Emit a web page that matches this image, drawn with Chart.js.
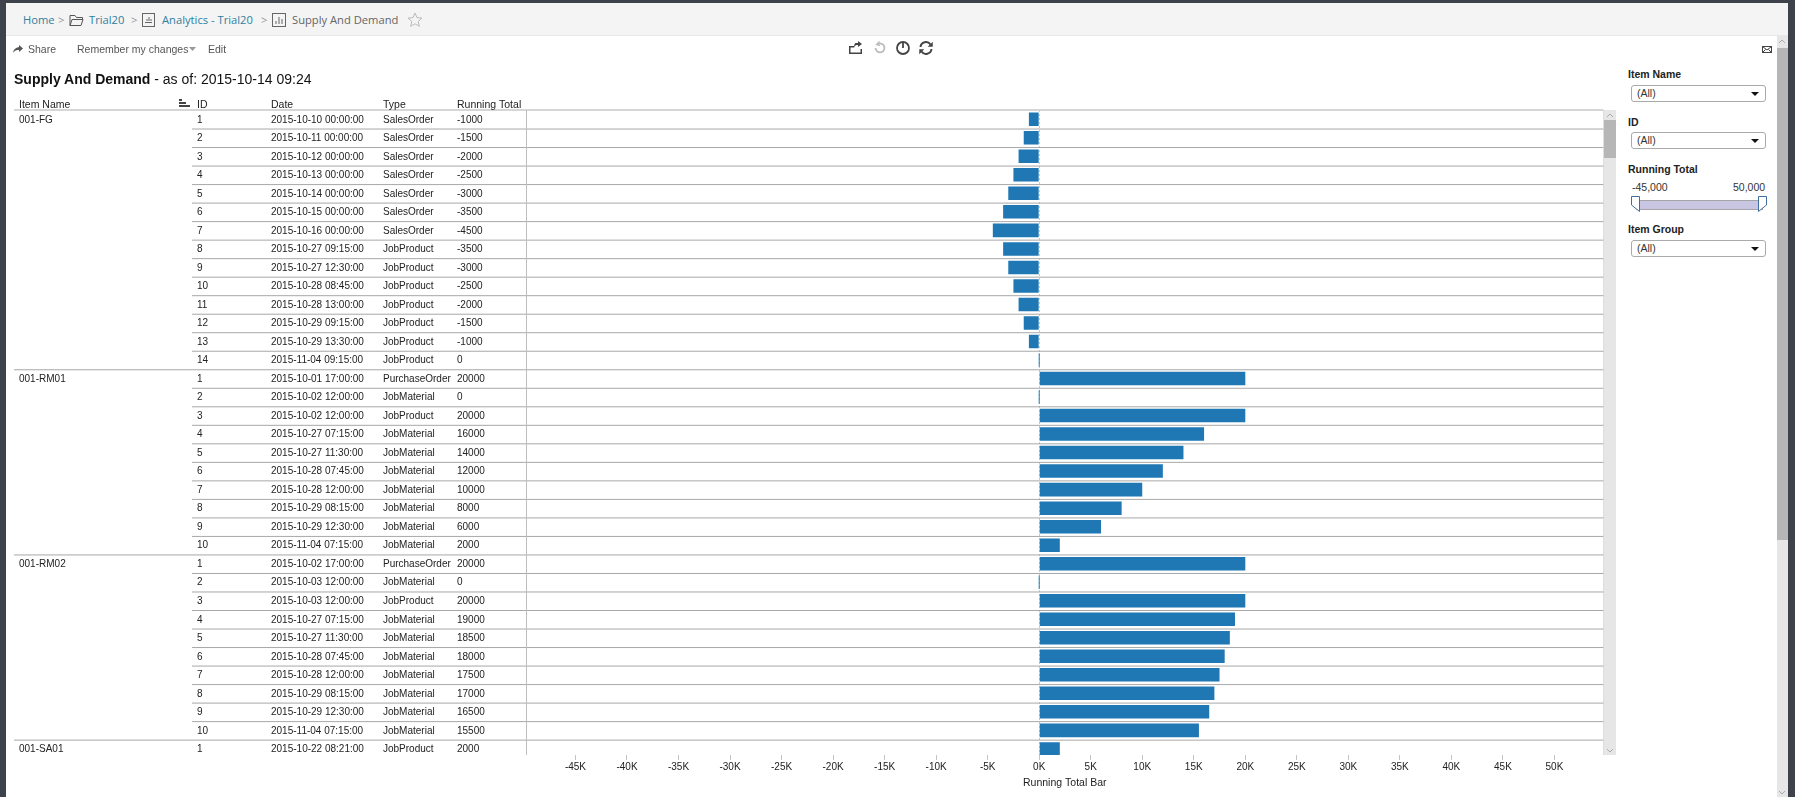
<!DOCTYPE html>
<html>
<head>
<meta charset="utf-8">
<title>Supply And Demand</title>
<script src="https://cdn.jsdelivr.net/npm/chart.js@4/dist/chart.umd.min.js"></script>
<style>
    html, body { margin: 0; padding: 0; width: 1795px; height: 797px; overflow: hidden; background: #3e434b; }
    body { font-family: "Liberation Sans", Arial, sans-serif; color: #333; }
    #page { position: absolute; left: 6px; top: 3px; width: 1782px; height: 794px; background: #fff; }
    #chart { position: absolute; left: 0; top: 0; }
    .abs { position: absolute; white-space: nowrap; }
    .crumbs { font-family: "Open Sans", sans-serif; font-size: 11.2px; line-height: 16px; top: 12px; color: #2f7f9f; }
    .tool { font-size: 10.5px; line-height: 14px; top: 42px; color: #555; }
    .label { font-size: 10.5px; font-weight: bold; line-height: 14px; color: #222; left: 1628px; }
    .combo { left: 1631px; width: 135px; height: 17px; box-sizing: border-box; border: 1px solid #aaa; border-radius: 3px;
             background: #fff; font-size: 10.5px; line-height: 15px; padding-left: 5px; color: #333; }
    .combo::after { content: ""; position: absolute; right: 6px; top: 6px; border: 4px solid transparent; border-top: 4px solid #111; border-bottom: 0; }
    svg { position: absolute; overflow: visible; }
</style>
</head>
<body>
<div id="page"></div>
<canvas id="chart" width="1616" height="797"></canvas>

<!-- breadcrumb bar -->
<div class="abs" style="left:6px;top:3px;width:1782px;height:32px;background:#f4f4f4;border-bottom:1px solid #e8e8e8"></div>
<div class="abs crumbs" style="left:23px">Home</div>
<div class="abs crumbs" style="left:58px;color:#999">&gt;</div>
<svg style="left:69px;top:14px" width="15" height="13" fill="none" stroke="#555"><path d="M1 11.5V1.5h5l1.5 2h6v2M1 11.5l2-6h11l-2 6z"/></svg>
<div class="abs crumbs" style="left:89px">Trial20</div>
<div class="abs crumbs" style="left:131px;color:#999">&gt;</div>
<svg style="left:142px;top:13px" width="14" height="14" fill="none" stroke="#666"><rect x="0.5" y="0.5" width="12" height="13"/><path d="M3 9.5h7M5 8V6M7 8V4M9 8V6"/></svg>
<div class="abs crumbs" style="left:162px">Analytics - Trial20</div>
<div class="abs crumbs" style="left:261px;color:#999">&gt;</div>
<svg style="left:272px;top:13px" width="14" height="14" fill="none" stroke="#666"><rect x="0.5" y="0.5" width="13" height="13"/><path d="M4 11V8M7 11V4M10 11V6"/></svg>
<div class="abs crumbs" style="left:292px;color:#666">Supply And Demand</div>
<svg style="left:407px;top:12px" width="16" height="15" fill="none" stroke="#bbb"><path d="M8 1l2 4.6 5 .5-3.8 3.3 1.1 4.9L8 11.8l-4.3 2.5 1.1-4.9L1 6.100l5-.5z"/></svg>

<!-- toolbar -->
<svg style="left:13px;top:45px" width="10" height="8" fill="#555"><path d="M6 0l4 3.500-4 3.500V5C3.500 5 1.500 5.500 0 8c.3-3.500 2.500-5.500 6-6z"/></svg>
<div class="abs tool" style="left:28px">Share</div>
<div class="abs tool" style="left:77px">Remember my changes</div>
<svg style="left:189px;top:47px" width="7" height="4" fill="#999"><path d="M0 0h7L3.500 4z"/></svg>
<div class="abs tool" style="left:208px">Edit</div>
<svg style="left:849px;top:41px" width="14" height="13" fill="#444"><path d="M0 5h5v1.500H1.500v5h10V8H13v5H0zM7 2h2V0l4 3-4 3V4H8C6.500 4 5.500 5 5 7c0-3 .5-5 2-5z"/></svg>
<svg style="left:874px;top:41px" width="12" height="13" fill="none" stroke="#bbb" stroke-width="1.800"><path d="M2.500 4a4.500 4.500 0 1 1-1 3"/><path d="M5.500 0.500L2.800 3.500l3.200 1" stroke-width="1.400"/></svg>
<svg style="left:896px;top:41px" width="14" height="14" fill="none" stroke="#444" stroke-width="1.800"><circle cx="7" cy="7" r="6"/><path d="M7 1v6"/></svg>
<svg style="left:919px;top:41px" width="14" height="14" fill="none" stroke="#444" stroke-width="2"><path d="M1.500 6a5.500 5.500 0 0 1 10-2.500M12.500 8a5.500 5.500 0 0 1-10 2.500"/><path d="M13.500 1v4.500H9M0.500 13V8.500H5" fill="#444" stroke-width="0.500"/></svg>
<svg style="left:1762px;top:46px" width="10" height="7" fill="none" stroke="#444"><rect x="0.500" y="0.500" width="9" height="6"/><path d="M0.500 0.500l4.500 3.500 4.500-3.500M0.500 6.500l3-3M9.500 6.500l-3-3"/></svg>

<div class="abs" style="left:14px;top:70px;font-size:14px;line-height:18px;color:#111"><b>Supply And Demand</b> - as of: 2015-10-14 09:24</div>

<!-- scrollbars -->
<div class="abs" style="left:1604px;top:110px;width:12px;height:645px;background:#e6e6e6"></div>
<div class="abs" style="left:1604px;top:120px;width:12px;height:38px;background:#b6b6b6"></div>
<svg style="left:1606px;top:113px" width="8" height="5" fill="none" stroke="#aaa"><path d="M1 4l3-3 3 3"/></svg>
<svg style="left:1606px;top:748px" width="8" height="5" fill="none" stroke="#aaa"><path d="M1 1l3 3 3-3"/></svg>
<div class="abs" style="left:1777px;top:36px;width:11px;height:761px;background:#e6e6e6"></div>
<div class="abs" style="left:1777px;top:48px;width:11px;height:492px;background:#b6b6b6"></div>
<svg style="left:1778px;top:39px" width="8" height="5" fill="none" stroke="#aaa"><path d="M1 4l3-3 3 3"/></svg>
<svg style="left:1778px;top:790px" width="8" height="5" fill="none" stroke="#aaa"><path d="M1 1l3 3 3-3"/></svg>

<!-- filter panel -->
<div class="abs label" style="top:67px">Item Name</div>
<div class="abs combo" style="top:85px">(All)</div>
<div class="abs label" style="top:115px">ID</div>
<div class="abs combo" style="top:132px">(All)</div>
<div class="abs label" style="top:162px">Running Total</div>
<div class="abs" style="left:1632px;top:180px;font-size:10.5px;line-height:14px;color:#333">-45,000</div>
<div class="abs" style="left:1733px;top:180px;width:30px;text-align:right;font-size:10.5px;line-height:14px;color:#333">50,000</div>
<div class="abs" style="left:1636px;top:200px;width:125px;height:8px;box-sizing:content-box;background:#c8c6e2;border:1px solid #a5a5a5"></div>
<svg style="left:1631px;top:196px" width="9" height="17" fill="#fff" stroke="#3f6f9f"><path d="M0.500 0.500h8v15L0.500 9z"/></svg>
<svg style="left:1758px;top:196px" width="9" height="17" fill="#fff" stroke="#3f6f9f"><path d="M0.500 0.500h8V9L0.500 15.500z"/></svg>
<div class="abs label" style="top:222px">Item Group</div>
<div class="abs combo" style="top:240px">(All)</div>

<script>
    // Rows of the worksheet, top to bottom
    const itemGroups = ['001-FG', '001-RM01', '001-RM02', '001-SA01'];
    const groupSizes = [14, 10, 10, 1];
    const headers = ['Item Name', 'ID', 'Date', 'Type', 'Running Total'];
    const rowIds = [
        1, 2, 3, 4, 5, 6, 7, 8, 9, 10, 11, 12, 13, 14,
        1, 2, 3, 4, 5, 6, 7, 8, 9, 10,
        1, 2, 3, 4, 5, 6, 7, 8, 9, 10,
        1
    ];
    const rowDates = [
        '2015-10-10 00:00:00', '2015-10-11 00:00:00', '2015-10-12 00:00:00', '2015-10-13 00:00:00',
        '2015-10-14 00:00:00', '2015-10-15 00:00:00', '2015-10-16 00:00:00', '2015-10-27 09:15:00',
        '2015-10-27 12:30:00', '2015-10-28 08:45:00', '2015-10-28 13:00:00', '2015-10-29 09:15:00',
        '2015-10-29 13:30:00', '2015-11-04 09:15:00',
        '2015-10-01 17:00:00', '2015-10-02 12:00:00', '2015-10-02 12:00:00', '2015-10-27 07:15:00',
        '2015-10-27 11:30:00', '2015-10-28 07:45:00', '2015-10-28 12:00:00', '2015-10-29 08:15:00',
        '2015-10-29 12:30:00', '2015-11-04 07:15:00',
        '2015-10-02 17:00:00', '2015-10-03 12:00:00', '2015-10-03 12:00:00', '2015-10-27 07:15:00',
        '2015-10-27 11:30:00', '2015-10-28 07:45:00', '2015-10-28 12:00:00', '2015-10-29 08:15:00',
        '2015-10-29 12:30:00', '2015-11-04 07:15:00',
        '2015-10-22 08:21:00'
    ];
    const rowTypes = [
        'SalesOrder', 'SalesOrder', 'SalesOrder', 'SalesOrder', 'SalesOrder', 'SalesOrder', 'SalesOrder',
        'JobProduct', 'JobProduct', 'JobProduct', 'JobProduct', 'JobProduct', 'JobProduct', 'JobProduct',
        'PurchaseOrder', 'JobMaterial', 'JobProduct', 'JobMaterial', 'JobMaterial', 'JobMaterial',
        'JobMaterial', 'JobMaterial', 'JobMaterial', 'JobMaterial',
        'PurchaseOrder', 'JobMaterial', 'JobProduct', 'JobMaterial', 'JobMaterial', 'JobMaterial',
        'JobMaterial', 'JobMaterial', 'JobMaterial', 'JobMaterial',
        'JobProduct'
    ];
    const runningTotals = [
        -1000, -1500, -2000, -2500, -3000, -3500, -4500, -3500, -3000, -2500, -2000, -1500, -1000, 0,
        20000, 0, 20000, 16000, 14000, 12000, 10000, 8000, 6000, 2000,
        20000, 0, 20000, 19000, 18500, 18000, 17500, 17000, 16500, 15500,
        2000
    ];
    const axisTicks = [
        -45000, -40000, -35000, -30000, -25000, -20000, -15000, -10000, -5000, 0,
        5000, 10000, 15000, 20000, 25000, 30000, 35000, 40000, 45000, 50000
    ];

    const columnX = [19, 197, 271, 383, 457];
    const TEXT_FONT = '10px "Liberation Sans", Arial, sans-serif';
    const HEADER_FONT = '10.5px "Liberation Sans", Arial, sans-serif';

    // Text columns and row rules left of the bars
    const worksheetTable = {
        id: 'worksheetTable',
        beforeDatasetsDraw(chart) {
            const { ctx, chartArea, scales: { y } } = chart;
            ctx.save();
            let next = 0;
            const groupStarts = groupSizes.map(size => { const at = next; next += size; return at; });

            rowIds.forEach((id, i) => {
                if (i === 0) return;
                const lineY = y.getPixelForValue(i - 0.5);
                ctx.fillStyle = '#a8a8a8';
                const fromX = groupStarts.includes(i) ? 14 : 192;
                ctx.fillRect(fromX, lineY, chartArea.right - fromX, 1);
            });

            ctx.fillStyle = '#d6d6d6';
            ctx.fillRect(14, chartArea.top - 1, chartArea.right - 14, 2);
            ctx.fillStyle = '#bdbdbd';
            ctx.fillRect(chartArea.left, chartArea.top, 1, chartArea.height);
            ctx.fillRect(chartArea.right, chartArea.top, 1, chartArea.height);

            ctx.font = HEADER_FONT;
            ctx.textBaseline = 'middle';
            ctx.fillStyle = '#222';
            headers.forEach((text, c) => ctx.fillText(text, columnX[c], 105));

            // sort marker beside the Item Name header
            ctx.fillStyle = '#444';
            ctx.fillRect(179, 99, 3, 2);
            ctx.fillRect(179, 102, 7, 2);
            ctx.fillRect(179, 105, 11, 2);

            ctx.font = TEXT_FONT;
            ctx.fillStyle = '#222';
            itemGroups.forEach((name, g) => {
                ctx.fillText(name, columnX[0], y.getPixelForValue(groupStarts[g]) + 0.5);
            });
            rowIds.forEach((id, i) => {
                const rowY = y.getPixelForValue(i) + 0.5;
                if (rowY > chartArea.bottom) return;
                ctx.fillText(String(id), columnX[1], rowY);
                ctx.fillText(rowDates[i], columnX[2], rowY);
                ctx.fillText(rowTypes[i], columnX[3], rowY);
                ctx.fillText(String(runningTotals[i]), columnX[4], rowY);
            });
            ctx.restore();
        }
    };

    new Chart(document.getElementById('chart'), {
        type: 'bar',
        data: {
            datasets: [{
                label: 'Running Total Bar',
                data: runningTotals.map((value, i) => ({ x: value, y: i })),
                backgroundColor: '#1f77b4',
                categoryPercentage: 1,
                barPercentage: 0.73,
                minBarLength: 1
            }]
        },
        options: {
            indexAxis: 'y',
            responsive: false,
            animation: false,
            layout: { padding: { left: 526, right: 12.5, top: 110, bottom: 0 } },
            plugins: { legend: { display: false }, tooltip: { enabled: false } },
            scales: {
                y: {
                    type: 'linear',
                    reverse: true,
                    display: false,
                    offset: false,
                    min: -0.5,
                    max: 34.33
                },
                x: {
                    type: 'linear',
                    position: 'bottom',
                    min: -49800,
                    max: 54760,
                    afterFit: scale => { scale.height = 42; },
                    afterBuildTicks: scale => { scale.ticks = axisTicks.map(value => ({ value })); },
                    border: { display: false, dash: [2, 2] },
                    grid: {
                        color: ctx => (ctx.tick && ctx.tick.value === 0 ? '#c3ccd3' : 'transparent'),
                        tickColor: '#c4c4c4',
                        tickLength: 5,
                        tickBorderDash: []
                    },
                    ticks: {
                        color: '#222',
                        font: { family: '"Liberation Sans", Arial, sans-serif', size: 10 },
                        padding: 1,
                        maxRotation: 0,
                        autoSkip: false,
                        callback: value => (value / 1000) + 'K'
                    },
                    title: {
                        display: true,
                        text: 'Running Total Bar',
                        color: '#222',
                        font: { family: '"Liberation Sans", Arial, sans-serif', size: 10.5 },
                        padding: { top: 0, bottom: 8 }
                    }
                }
            }
        },
        plugins: [worksheetTable]
    });
</script>
</body>
</html>
